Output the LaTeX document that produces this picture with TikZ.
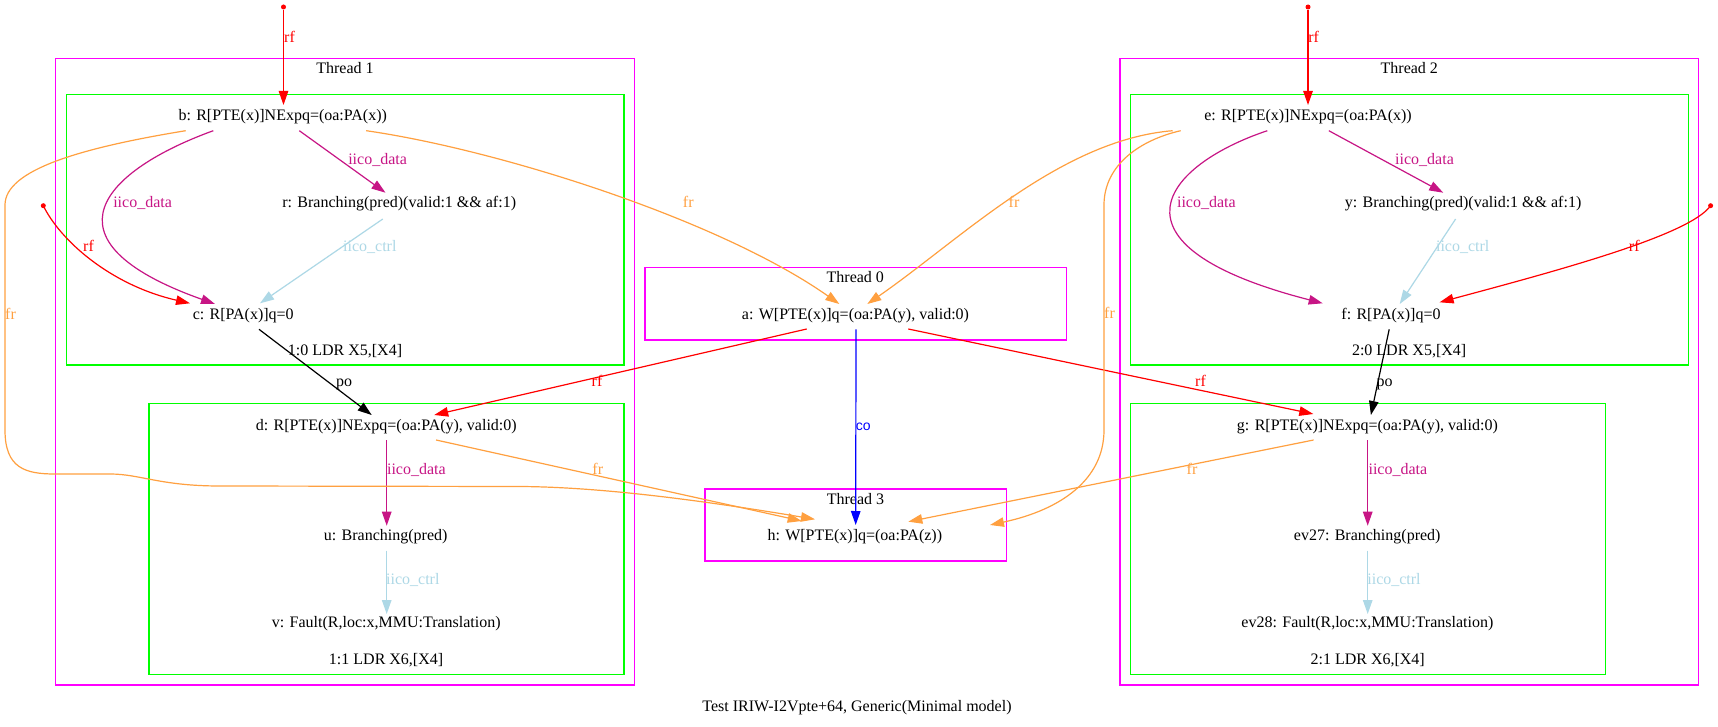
\documentclass[tikz,border=0pt]{standalone}
\usepackage{fontspec}
\setmainfont{Liberation Serif}
\setsansfont{Liberation Sans}
\usetikzlibrary{arrows.meta,calc}
\definecolor{frc}{HTML}{FFA040}
\definecolor{idc}{HTML}{C71585}
\definecolor{icc}{HTML}{ADD8E6}
\definecolor{magbox}{HTML}{FF00FF}
\definecolor{grnbox}{HTML}{00FF00}
\begin{document}
\begin{tikzpicture}[x=1pt,y=-1pt,
  txt/.style={inner sep=0pt, text height=11pt, text depth=4pt, font=\fontsize{16}{18}\selectfont},
  thrbox/.style={draw=magbox, line width=1.3pt},
  insbox/.style={draw=grnbox, line width=1.3pt},
  edge/.style={line width=1.2pt, -{Triangle[length=14pt,width=9.5pt]}},
  rfe/.style={edge, red},
  fre/.style={edge, frc},
  ide/.style={edge, idc},
  ice/.style={edge, icc},
  poe/.style={edge, black},
  coe/.style={edge, blue},
  src/.style={circle, fill=red, inner sep=0pt, minimum size=5pt},
]
\useasboundingbox (0,0) rectangle (1718,727);
\fill[white] (0,0) rectangle (1718,727);

% cluster boxes
\draw[thrbox] (55.7,58.3) rectangle (634.3,685);
\draw[insbox] (66.5,94.3) rectangle (624,365);
\draw[insbox] (149,403.3) rectangle (624,674.3);
\draw[thrbox] (645,267.7) rectangle (1066.5,340);
\draw[thrbox] (705,489) rectangle (1006.7,561);
\draw[thrbox] (1120,58.3) rectangle (1698.7,685);
\draw[insbox] (1130.6,94.3) rectangle (1688.2,365);
\draw[insbox] (1130.6,403.3) rectangle (1605.3,674.3);

% cluster labels
\node[txt] (t1) at (345,70.3) {Thread 1};
\node[txt] (t2) at (1409.3,70.3) {Thread 2};
\node[txt] (t0) at (855.3,279.3) {Thread 0};
\node[txt] (t3) at (855.5,500.7) {Thread 3};
\node[txt] (i10) at (345,351.7) {1:0 LDR X5,[X4]};
\node[txt] (i11) at (386.1,660.7) {1:1 LDR X6,[X4]};
\node[txt] (i20) at (1409.1,351.7) {2:0 LDR X5,[X4]};
\node[txt] (i21) at (1367.7,660.7) {2:1 LDR X6,[X4]};
\node[txt] (cap) at (857,707.7) {Test IRIW-I2Vpte+64, Generic(Minimal model)};

% events
\node[txt] (nb) at (282.7,116.7) {b: R[PTE(x)]NExpq=(oa:PA(x))};
\node[txt] (nr) at (399.2,204.3) {r: Branching(pred)(valid:1 \&\& af:1)};
\node[txt] (nc) at (243.3,315.7) {c: R[PA(x)]q=0};
\node[txt] (nd) at (386.3,426.7) {d: R[PTE(x)]NExpq=(oa:PA(y), valid:0)};
\node[txt] (nu) at (385.7,536.7) {u: Branching(pred)};
\node[txt] (nv) at (386.3,624.3) {v: Fault(R,loc:x,MMU:Translation)};
\node[txt] (na) at (855.5,315.7) {a: W[PTE(x)]q=(oa:PA(y), valid:0)};
\node[txt] (nh) at (854.8,537.3) {h: W[PTE(x)]q=(oa:PA(z))};
\node[txt] (ne) at (1308,116.7) {e: R[PTE(x)]NExpq=(oa:PA(x))};
\node[txt] (ny) at (1463.1,204.3) {y: Branching(pred)(valid:1 \&\& af:1)};
\node[txt] (nf) at (1391,315.7) {f: R[PA(x)]q=0};
\node[txt] (ng) at (1367.4,426.7) {g: R[PTE(x)]NExpq=(oa:PA(y), valid:0)};
\node[txt] (n27) at (1367.2,536.7) {ev27: Branching(pred)};
\node[txt] (n28) at (1367.4,624.3) {ev28: Fault(R,loc:x,MMU:Translation)};

% initial-write sources
\node[src] (s1) at (283.5,7) {};
\node[src] (s2) at (1308,7) {};
\node[src] (s3) at (43.3,205.7) {};
\node[src] (s4) at (1710.6,205.7) {};

% edges
\draw[rfe] (s1) -- ($(nb)+(0.8,-11.7)$);
\draw[rfe] (s2) -- ($(ne)+(0,-11.7)$);
\draw[rfe] (s3.center) .. controls (60,240) and (110,285) .. ($(nc)+(-53.3,-12.4)$);
\draw[rfe] (s4.center) .. controls (1690,235) and (1560,270) .. ($(nf)+(48.6,-13.4)$);

\draw[ide] ($(nb)+(16.6,14)$) -- ($(nr)+(-13.7,-11.6)$);
\draw[ide] ($(nb)+(-69.4,14)$) .. controls (105,170) and (35,240) .. ($(nc)+(-28.3,-11.7)$);
\draw[ice] ($(nr)+(-16.4,14.7)$) -- ($(nc)+(16.7,-12.4)$);
\draw[poe] ($(nc)+(15.7,13.6)$) -- ($(nd)+(-14.6,-11.7)$);
\draw[ide] ($(nd)+(0.4,13.3)$) -- ($(nu)+(1,-11)$);
\draw[ice] ($(nu)+(1,14)$) -- ($(nv)+(0.4,-10.3)$);

\draw[coe] ($(na)+(0.5,13.6)$) -- ($(nh)+(0.9,-12.3)$);
\draw[rfe] ($(na)+(-48.8,13.3)$) -- ($(nd)+(47.9,-11.7)$);
\draw[rfe] ($(na)+(52.8,13.3)$) -- ($(ng)+(-54.1,-12.7)$);

\draw[fre] ($(nb)+(83.5,14)$) .. controls (500,150) and (720,220) .. ($(na)+(-16.2,-11.7)$);
\draw[fre] ($(ne)+(-135.3,14)$) .. controls (1060,140) and (960,240) .. ($(na)+(11.8,-11.7)$);
\draw[fre] ($(nb)+(-97,14)$) .. controls (80,148) and (5,170) .. (5,205) -- (5,430)
   .. controls (5,468) and (25,474) .. (55,474) -- (110,474)
   .. controls (140,474) and (160,486) .. (220,486) -- (520,486.5)
   .. controls (600,487) and (700,500) .. ($(nh)+(-39.8,-18)$);
\draw[fre] ($(nd)+(49.8,13.3)$) -- ($(nh)+(-53.1,-16.3)$);
\draw[fre] ($(ne)+(-127.3,14)$) .. controls (1140,140) and (1104,165) .. (1104,205) -- (1104,430)
   .. controls (1104,480) and (1060,510) .. ($(nh)+(135.2,-12.3)$);
\draw[fre] ($(ng)+(-53.8,13.3)$) -- ($(nh)+(53.5,-15.6)$);

\draw[ide] ($(ne)+(20.8,14)$) -- ($(ny)+(-19.9,-11.6)$);
\draw[ide] ($(ne)+(-40.7,14)$) .. controls (1165,165) and (1096,245) .. ($(nf)+(-68.3,-12.4)$);
\draw[ice] ($(ny)+(-7.5,14.7)$) -- ($(nf)+(8.7,-11.7)$);
\draw[poe] ($(nf)+(-1.8,13.6)$) -- ($(ng)+(3.5,-11.7)$);
\draw[ide] ($(ng)+(0.3,13.3)$) -- ($(n27)+(0.5,-11)$);
\draw[ice] ($(n27)+(0.5,14)$) -- ($(n28)+(0.3,-10.3)$);

% edge labels
\node[txt, red] (l1) at (289.5,39.3) {rf};
\node[txt, red] (l2) at (1313.7,39.3) {rf};
\node[txt, red] (l3) at (88.5,248.3) {rf};
\node[txt, red] (l4) at (1634.3,248.3) {rf};
\node[txt, idc] (l5) at (142.6,204.3) {iico\_data};
\node[txt, idc] (l6) at (377.6,160.7) {iico\_data};
\node[txt, icc] (l7) at (369.8,248.3) {iico\_ctrl};
\node[txt, frc] (l8) at (10.5,315.5) {fr};
\node[txt, frc] (l9) at (688.3,204.3) {fr};
\node[txt] (l10) at (344,382.7) {po};
\node[txt, red] (l11) at (597,382.5) {rf};
\node[txt, frc] (l12) at (597.8,470.5) {fr};
\node[txt, idc] (l13) at (416.4,470.7) {iico\_data};
\node[txt, icc] (l14) at (412.8,580.7) {iico\_ctrl};
\node[txt, blue, font=\sffamily\fontsize{14}{16}\selectfont] (l15) at (863.3,426.7) {co};
\node[txt, frc] (l16) at (1014,204.3) {fr};
\node[txt, frc] (l17) at (1109.5,315) {fr};
\node[txt, idc] (l18) at (1206.4,204.3) {iico\_data};
\node[txt, idc] (l19) at (1424.5,160.7) {iico\_data};
\node[txt, icc] (l20) at (1462.7,248.3) {iico\_ctrl};
\node[txt] (l21) at (1384.6,382.7) {po};
\node[txt, red] (l22) at (1200.5,382.7) {rf};
\node[txt, frc] (l23) at (1192,470.7) {fr};
\node[txt, idc] (l24) at (1397.9,470.7) {iico\_data};
\node[txt, icc] (l25) at (1394,580.7) {iico\_ctrl};
\end{tikzpicture}
\end{document}
